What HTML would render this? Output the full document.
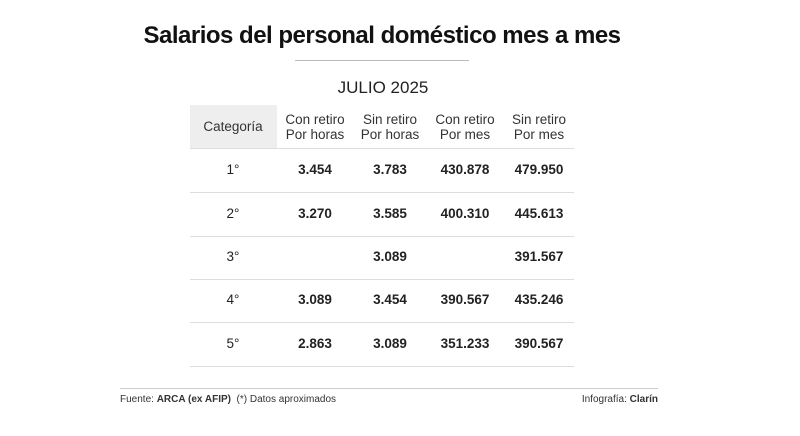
<!DOCTYPE html>
<html><head><meta charset="utf-8"><style>
body{margin:0;width:800px;height:436px;background:#fff;font-family:"Liberation Sans",sans-serif;color:#222;position:relative;overflow:hidden}
.a{position:absolute;white-space:nowrap}
.c{position:absolute;text-align:center;transform:translateX(-50%);white-space:nowrap}
.hl{position:absolute;left:190px;width:384px;height:1px;background:#ddd}
.h{font-size:13.5px;line-height:15px;color:#333;top:112px}
.v{font-size:13.5px;font-weight:bold;color:#222}
</style></head><body>
<div class="c" style="left:382px;top:22px;font-size:24px;font-weight:bold;letter-spacing:-0.5px;color:#111">Salarios del personal doméstico mes a mes</div>
<div class="a" style="left:295px;top:60px;width:174px;height:1px;background:#bbb"></div>
<div class="c" style="left:383px;top:78px;font-size:17px;color:#222">JULIO 2025</div>
<div class="a" style="left:190px;top:105px;width:87px;height:43px;background:#eee"></div>
<div class="c h" style="left:233px;top:119px">Categoría</div>
<div class="c h" style="left:315px">Con retiro<br>Por horas</div>
<div class="c h" style="left:390px">Sin retiro<br>Por horas</div>
<div class="c h" style="left:465px">Con retiro<br>Por mes</div>
<div class="c h" style="left:539px">Sin retiro<br>Por mes</div>
<div class="hl" style="top:148px"></div><div class="hl" style="top:192px"></div><div class="hl" style="top:236px"></div><div class="hl" style="top:279px"></div><div class="hl" style="top:322px"></div><div class="hl" style="top:366px"></div>
<div class="c" style="left:233px;top:162px;font-size:13.5px">1°</div>
<div class="c v" style="left:315px;top:162px">3.454</div><div class="c v" style="left:390px;top:162px">3.783</div><div class="c v" style="left:465px;top:162px">430.878</div><div class="c v" style="left:539px;top:162px">479.950</div>
<div class="c" style="left:233px;top:206px;font-size:13.5px">2°</div>
<div class="c v" style="left:315px;top:206px">3.270</div><div class="c v" style="left:390px;top:206px">3.585</div><div class="c v" style="left:465px;top:206px">400.310</div><div class="c v" style="left:539px;top:206px">445.613</div>
<div class="c" style="left:233px;top:249px;font-size:13.5px">3°</div>
<div class="c v" style="left:390px;top:249px">3.089</div><div class="c v" style="left:539px;top:249px">391.567</div>
<div class="c" style="left:233px;top:292px;font-size:13.5px">4°</div>
<div class="c v" style="left:315px;top:292px">3.089</div><div class="c v" style="left:390px;top:292px">3.454</div><div class="c v" style="left:465px;top:292px">390.567</div><div class="c v" style="left:539px;top:292px">435.246</div>
<div class="c" style="left:233px;top:336px;font-size:13.5px">5°</div>
<div class="c v" style="left:315px;top:336px">2.863</div><div class="c v" style="left:390px;top:336px">3.089</div><div class="c v" style="left:465px;top:336px">351.233</div><div class="c v" style="left:539px;top:336px">390.567</div>
<div class="a" style="left:120px;top:388px;width:538px;height:1px;background:#ccc"></div>
<div class="a" style="left:120px;top:394px;font-size:10px;color:#333">Fuente: <b>ARCA (ex AFIP)</b>&nbsp;&nbsp;(*) Datos aproximados</div>
<div class="a" style="right:142px;top:394px;font-size:10px;color:#333">Infografía: <b>Clarín</b></div>
</body></html>
